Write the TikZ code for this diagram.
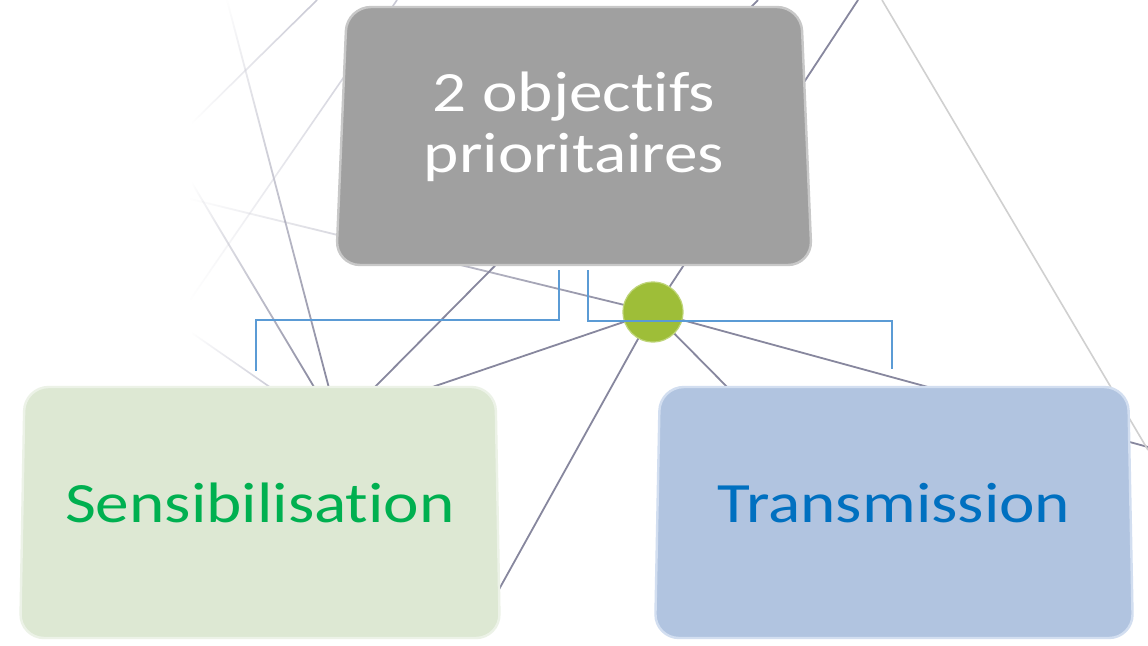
\documentclass[tikz,border=0pt]{standalone}
\usepackage{fontspec}
\setmainfont{Carlito}[FakeStretch=1.18, Ligatures={NoCommon,NoRequired,NoContextual}]
\usetikzlibrary{positioning,shapes.geometric,calc,fadings}
\definecolor{objgray}{RGB}{160,160,160}
\definecolor{objrim}{RGB}{200,200,200}
\definecolor{sensfill}{RGB}{221,232,211}
\definecolor{sensrim}{RGB}{236,242,231}
\definecolor{senstext}{RGB}{0,176,80}
\definecolor{transfill}{RGB}{177,196,224}
\definecolor{transrim}{RGB}{210,222,240}
\definecolor{transtext}{RGB}{0,112,192}
\definecolor{hubgreen}{RGB}{158,190,56}
\definecolor{hubrim}{RGB}{190,212,120}
\definecolor{linkblue}{RGB}{91,155,213}
\definecolor{spokegray}{RGB}{135,135,158}
\definecolor{faintgray}{RGB}{200,200,212}
\definecolor{lightgray}{RGB}{208,208,208}
\tikzfading[name=fade left, left color=transparent!100, right color=transparent!0]
\tikzfading[name=fade up, top color=transparent!100, bottom color=transparent!0]
\tikzset{
  objbox/.style={trapezium, trapezium stretches=true, trapezium left angle=87, trapezium right angle=87,
    rounded corners=12pt, line width=1.2pt, align=center, font=\fontsize{28.5}{30.5}\selectfont},
  topbox/.style={objbox, fill=objgray, draw=objrim, text=white, minimum width=238.5pt, minimum height=129pt, text depth=14pt},
  sensbox/.style={objbox, fill=sensfill, draw=sensrim, text=senstext, minimum width=240pt, minimum height=125.5pt, text depth=9.5pt},
  transbox/.style={objbox, fill=transfill, draw=transrim, text=transtext, minimum width=239pt, minimum height=125.5pt, text depth=9.5pt},
  hub/.style={circle, fill=hubgreen, draw=hubrim, line width=0.6pt, minimum size=30pt, inner sep=0pt},
  link/.style={draw=linkblue, line width=1pt},
  spoke/.style={draw=spokegray, line width=0.9pt},
  faint/.style={draw=faintgray, line width=0.8pt}
}

\begin{document}
\begin{tikzpicture}[x=0.5pt, y=-0.5pt]
  \useasboundingbox[fill=white] (0,0) rectangle (1148,645);

  % background web of lines
  \coordinate (hubc) at (653,312);
  \draw[spoke, path fading=fade left] (hubc) -- (190,199);
  \draw[spoke] (hubc) -- (1148,447);
  \draw[spoke] (hubc) -- (858,0);
  \draw[spoke] (hubc) -- (482,620);
  \draw[spoke] (hubc) -- (400,398);
  \draw[spoke] (hubc) -- (740,400);
  \draw[spoke, path fading=fade up] (227,0) -- (330,392);
  \draw[spoke, path fading=fade left] (192,183) -- (317,392);
  \draw[spoke] (758,0) -- (370,392);
  \draw[faint, path fading=fade left] (317,0) -- (192,123);
  \draw[faint, path fading=fade left] (397,0) -- (190,300);
  \draw[faint, path fading=fade left] (192,333) -- (277,392);
  \draw[draw=lightgray, line width=0.8pt] (882,0) -- (1148,450);

  \node[hub] (hub) at (hubc) {};

  % the three boxes
  \node[topbox] (obj) at (574,136) {2 objectifs\\prioritaires};
  \node[sensbox] (sens) at (260,512.5) {Sensibilisation};
  \node[transbox] (trans) at (894,512.5) {Transmission};

  % elbow links
  \draw[link] ($(obj.south)+(-15,4)$) -- ++(0,50) -| ($(sens.north)+(-4,-15)$);
  \draw[link] ($(obj.south)+(14,4)$) -- ++(0,51) -| ($(trans.north)+(-2,-17)$);
\end{tikzpicture}
\end{document}
